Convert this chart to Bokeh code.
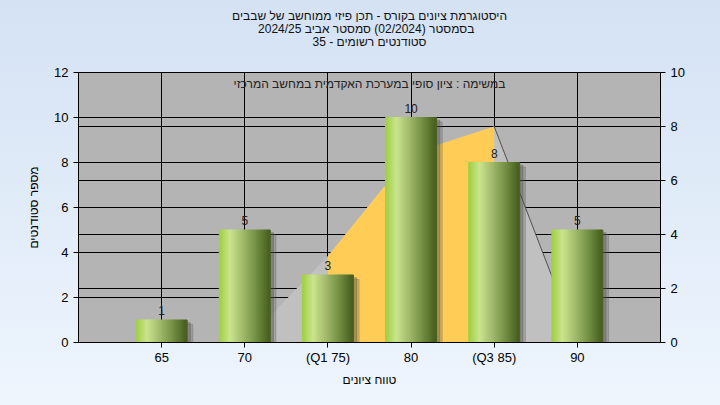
import numpy as np
from bokeh.plotting import figure
from bokeh.models import ColumnDataSource, Range1d, LinearAxis, FixedTicker, Grid, Label, Title
from bokeh.core.properties import value
from bokeh.embed import file_html
from bokeh.resources import INLINE

# ---- data ----
categories = ["65", "70", "(Q1 75)", "80", "(Q3 85)", "90"]
counts = [1, 5, 3, 10, 8, 5]
curve = [0, 0, 3.2, 7.0, 8.0, 0]          # right-axis values of the distribution area
q1_index, q3_index = 2, 4
title_lines = [
    "היסטוגרמת ציונים בקורס - תכן פיזי ממוחשב של שבבים",
    "בסמסטר  (02/2024)  סמסטר אביב 2024/25",
    "סטודנטים רשומים - 35",
]
subtitle = "במשימה : ציון סופי במערכת האקדמית במחשב המרכזי"
y_label = "מספר סטודנטים"
x_label = "טווח ציונים"
left_ticks = [0, 2, 4, 6, 8, 10, 12]
right_ticks = [0, 2, 4, 6, 8, 10]

FONT = "Liberation Sans"
xs = list(range(1, len(categories) + 1))

p = figure(width=704, height=389, x_range=Range1d(0, 7), y_range=Range1d(0, 12),
           output_backend="svg", toolbar_location=None, title=None,
           min_border_left=78, min_border_right=44, min_border_top=72, min_border_bottom=46)
p.border_fill_alpha = 0
p.background_fill_color = "#b4b4b4"
p.outline_line_color = "black"
p.extra_y_ranges = {"right": Range1d(0, 10)}

# spacer between frame and the title block, then title lines (nearest-first)
p.add_layout(Title(text=" ", standoff=8.5, text_font=FONT, text_font_size="12px",
                   text_line_height=1.0), "above")
for line in reversed(title_lines):
    p.add_layout(Title(text=line, align="center", offset=-9, standoff=-3,
                       text_font=FONT, text_font_size="12px", text_font_style="normal",
                       text_color="#111111", text_line_height=1.0), "above")

# axes
p.xaxis.ticker = FixedTicker(ticks=xs)
p.xaxis.major_label_overrides = {x: c for x, c in zip(xs, categories)}
p.yaxis.ticker = FixedTicker(ticks=left_ticks)
ra = LinearAxis(y_range_name="right", ticker=FixedTicker(ticks=right_ticks))
p.add_layout(ra, "right")
for ax in [p.xaxis[0], p.yaxis[0], ra]:
    ax.axis_line_color = "black"
    ax.major_tick_line_color = "black"
    ax.major_tick_out = 5
    ax.major_tick_in = 0
    ax.minor_tick_line_color = None
    ax.major_label_text_font = FONT
    ax.major_label_text_font_size = "13px"
    ax.major_label_text_color = "black"
    ax.axis_label_text_font = FONT
    ax.axis_label_text_font_size = "12px"
    ax.axis_label_text_font_style = "normal"
    ax.axis_label_text_color = "black"
p.yaxis[0].axis_label = y_label
p.yaxis[0].axis_label_standoff = 10
p.xaxis[0].axis_label = x_label
p.xaxis[0].major_label_standoff = 2
p.xaxis[0].axis_label_standoff = 5

# grids
p.xgrid.grid_line_color = "black"
p.ygrid.grid_line_color = "black"
p.add_layout(Grid(dimension=1, ticker=FixedTicker(ticks=right_ticks), y_range_name="right",
                  grid_line_color="black"))

# distribution area (right axis)
p.varea(x=xs, y1=[0] * len(xs), y2=curve, color="#c0c0c0", y_range_name="right")
p.varea(x=xs[q1_index:q3_index + 1], y1=[0] * (q3_index - q1_index + 1),
        y2=curve[q1_index:q3_index + 1], color="#ffcc55", y_range_name="right")
p.line(x=xs[q3_index:q3_index + 2], y=curve[q3_index:q3_index + 2], line_color="#505050",
       line_width=1, y_range_name="right")

# bar shadows
bw = 0.61
p.vbar(x=[x + 0.07 for x in xs], top=[c - 0.2 for c in counts], width=bw, color="#505050", alpha=0.25)
p.vbar(x=[x + 0.04 for x in xs], top=[c - 0.12 for c in counts], width=bw, color="#505050", alpha=0.35)

# gradient bars (vertical strips)
stops = [(0.0, (158, 206, 64)), (0.22, (202, 228, 142)), (0.45, (166, 190, 112)),
         (0.72, (118, 146, 70)), (1.0, (70, 94, 30))]
def grad(t):
    for (t0, c0), (t1, c1) in zip(stops[:-1], stops[1:]):
        if t <= t1:
            f = (t - t0) / (t1 - t0)
            return "#%02x%02x%02x" % tuple(int(round(a + (b - a) * f)) for a, b in zip(c0, c1))
    return "#%02x%02x%02x" % stops[-1][1]
N = 30
sx, st, sc = [], [], []
for x, c in zip(xs, counts):
    for k in range(N):
        t = (k + 0.5) / N
        sx.append(x - bw / 2 + t * bw)
        st.append(c)
        sc.append(grad(t))
p.vbar(x="x", top="top", width=bw / N * 1.15, bottom=0, color="color",
       source=ColumnDataSource(dict(x=sx, top=st, color=sc)))

# value labels
p.text(x=xs, y=counts, text=[str(c) for c in counts], text_align="center", text_baseline="bottom",
       y_offset=-5, text_font=value(FONT), text_font_size="12px", text_color="#222222")

# subtitle inside the plot
p.add_layout(Label(x=3.5, y=11.47, text=subtitle, text_align="center", text_baseline="middle",
                   text_font=FONT, text_font_size="12px", text_color="#222222"))

html = file_html(p, INLINE, title="chart")
html = html.replace("</head>", "<style>html{min-height:100%;background:linear-gradient(to bottom,#d4e2f4,#eef5fd);}body{background:transparent;}</style></head>", 1)
open("out.html", "w").write(html)
